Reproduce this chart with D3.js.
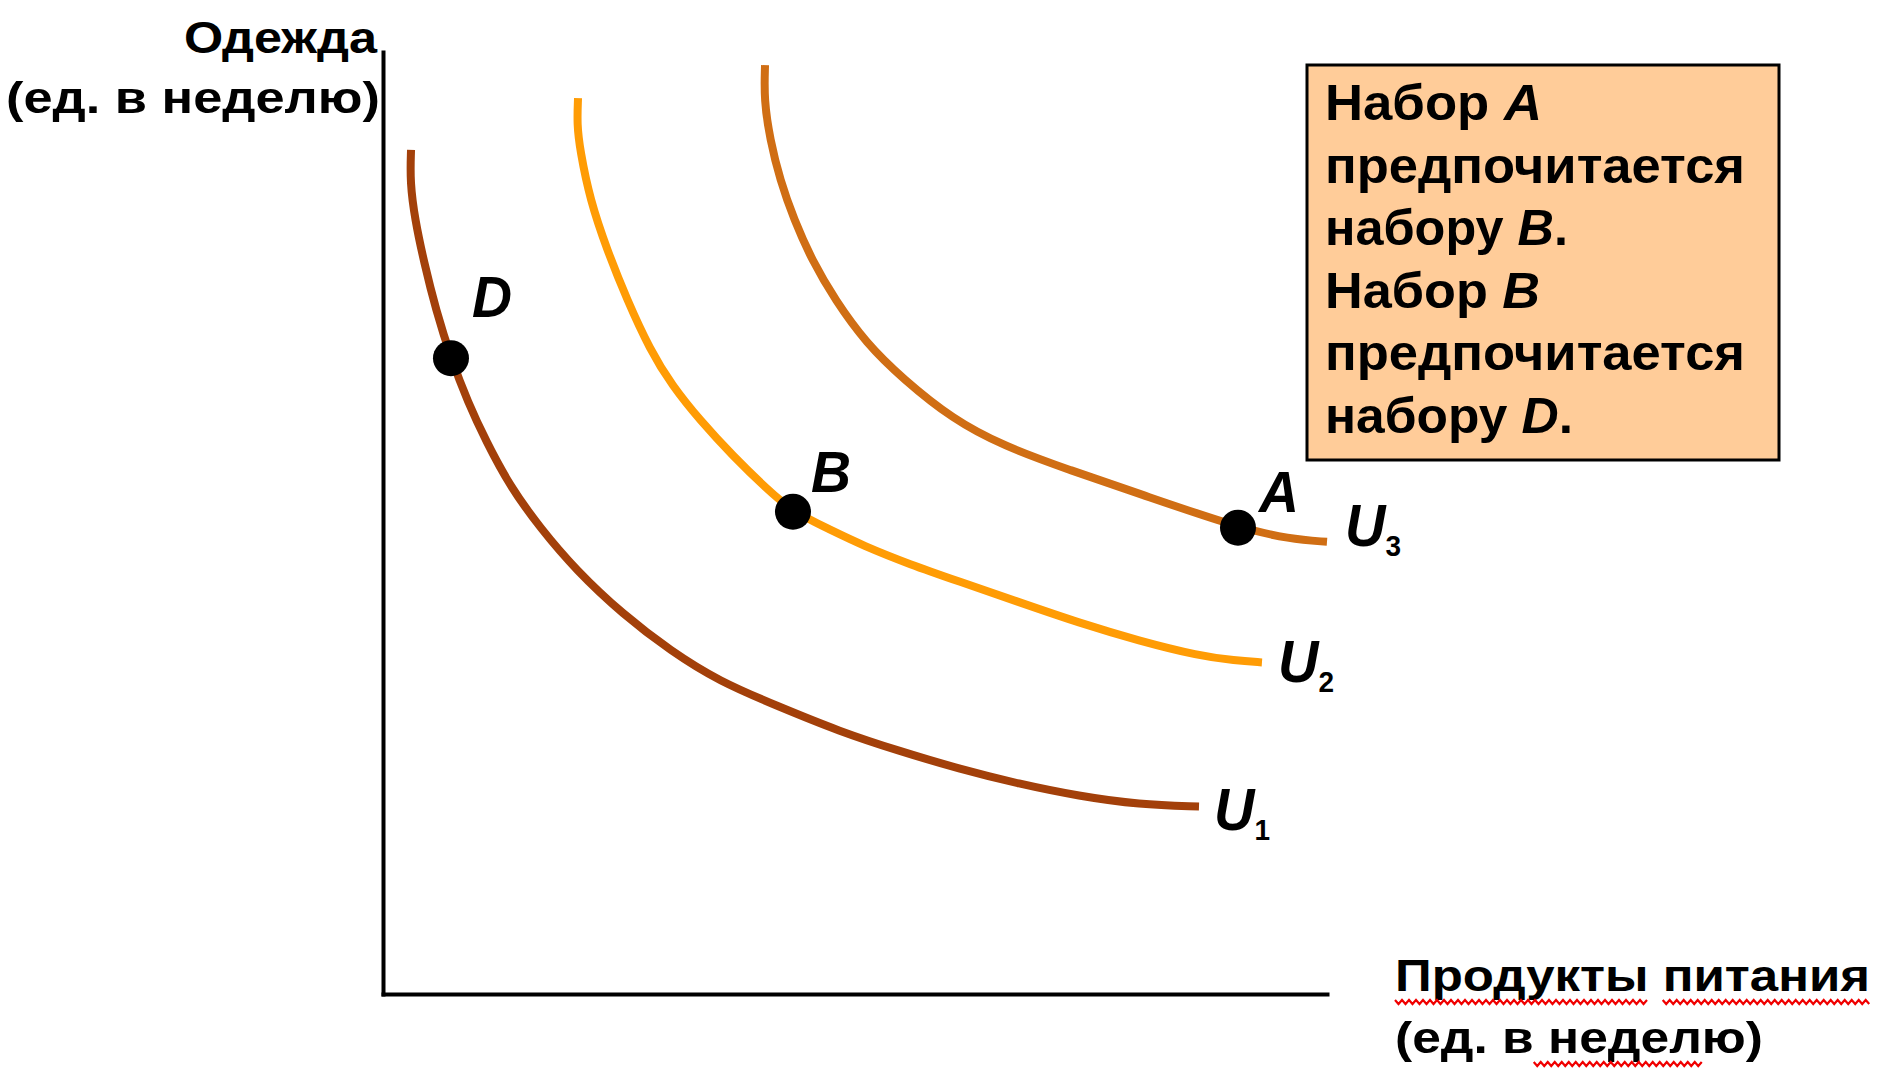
<!DOCTYPE html>
<html>
<head>
<meta charset="utf-8">
<script src="https://cdn.jsdelivr.net/npm/d3@7"></script>
<style>
  html, body { margin: 0; padding: 0; background: #ffffff; }
  svg { display: block; }
  text { font-family: "Liberation Sans", Arial, sans-serif; font-weight: bold; fill: #000; }
</style>
</head>
<body>
<svg id="chart" width="1880" height="1068"></svg>
<script>
// ---- data (food units, clothing units) ----
const curveNames = ["U", "U", "U"];
const curveSubs  = ["1", "2", "3"];
const u1Food     = [0.297, 0.286, 0.339, 0.434, 0.561, 0.720, 0.900, 1.091, 1.345, 1.663, 2.044, 2.542, 3.051, 3.559, 4.195, 4.830, 5.466, 6.102, 6.737, 7.373, 8.008, 8.644];
const u1Clothing = [8.96, 8.62, 8.22, 7.77, 7.26, 6.75, 6.28, 5.87, 5.39, 4.95, 4.50, 4.03, 3.64, 3.32, 3.05, 2.79, 2.58, 2.39, 2.23, 2.10, 2.01, 1.99];
const u2Food     = [2.066, 2.055, 2.087, 2.193, 2.373, 2.585, 2.828, 3.061, 3.358, 3.708, 4.068, 4.343, 4.735, 5.085, 5.583, 6.102, 6.737, 7.373, 8.008, 8.644, 9.025, 9.311];
const u2Clothing = [9.51, 9.23, 8.96, 8.43, 7.90, 7.37, 6.84, 6.46, 6.09, 5.71, 5.36, 5.12, 4.93, 4.76, 4.56, 4.38, 4.16, 3.94, 3.75, 3.59, 3.54, 3.52];
const u3Food     = [4.047, 4.036, 4.100, 4.206, 4.354, 4.544, 4.788, 5.117, 5.508, 6.038, 6.568, 7.278, 7.987, 9.057, 9.608, 10.0];
const u3Clothing = [9.86, 9.49, 9.07, 8.64, 8.22, 7.79, 7.37, 6.91, 6.53, 6.10, 5.82, 5.56, 5.32, 4.95, 4.83, 4.80];
const curveColors = ["#a3400a", "#ff9c05", "#d06e14"];

const pointNames    = ["D", "B", "A"];
const pointFood     = [0.720, 4.343, 9.057];
const pointClothing = [6.75, 5.12, 4.95];

const yLabelLines = ["Одежда", "(ед. в неделю)"];
const xLabelLines = ["Продукты питания", "(ед. в неделю)"];
const noteLines = [
  ["Набор ", "A", ""],
  ["предпочитается", "", ""],
  ["набору ", "B", "."],
  ["Набор ", "B", ""],
  ["предпочитается", "", ""],
  ["набору ", "D", "."]
];

// ---- layout ----
const svg = d3.select("#chart");
const X0 = 383, X1 = 1327, Y0 = 994, Y1 = 52;
const x = d3.scaleLinear().domain([0, 10]).range([X0, X1]);
const y = d3.scaleLinear().domain([0, 10]).range([Y0, Y1]);

// axes (no ticks)
const axisG = svg.append("g");
axisG.append("g").attr("transform", `translate(0,${Y0})`)
  .call(d3.axisBottom(x).tickValues([]).tickSizeOuter(0))
  .call(g => g.select(".domain").attr("stroke", "#000").attr("stroke-width", 4).attr("stroke-linecap", "square"));
axisG.append("g").attr("transform", `translate(${X0},0)`)
  .call(d3.axisLeft(y).tickValues([]).tickSizeOuter(0))
  .call(g => g.select(".domain").attr("stroke", "#000").attr("stroke-width", 4).attr("stroke-linecap", "square"));

// curves
const curves = [
  u1Food.map((f, i) => [f, u1Clothing[i]]),
  u2Food.map((f, i) => [f, u2Clothing[i]]),
  u3Food.map((f, i) => [f, u3Clothing[i]])
];
const line = d3.line().x(d => x(d[0])).y(d => y(d[1])).curve(d3.curveBasis);
svg.append("g").selectAll("path").data(curves).join("path")
  .attr("d", line)
  .attr("fill", "none")
  .attr("stroke", (d, i) => curveColors[i])
  .attr("stroke-width", 8)
  .attr("stroke-linecap", "butt");

// curve labels U1..U3 next to curve ends (one text each, subscript as tspan)
const uOffsets = [[15, 23], [16, 20], [18, 4]];
curves.forEach((c, i) => {
  const end = c[c.length - 1];
  const t = svg.append("text")
    .attr("x", x(end[0]) + uOffsets[i][0])
    .attr("y", y(end[1]) + uOffsets[i][1])
    .attr("textLength", 56).attr("lengthAdjust", "spacingAndGlyphs");
  t.append("tspan").attr("font-size", 60).attr("font-style", "italic").text(curveNames[i]);
  t.append("tspan").attr("font-size", 30).attr("dy", 10).text(curveSubs[i]);
});

// points
const pts = pointNames.map((n, i) => ({ name: n, f: pointFood[i], c: pointClothing[i] }));
svg.append("g").selectAll("circle").data(pts).join("circle")
  .attr("cx", d => x(d.f)).attr("cy", d => y(d.c)).attr("r", 18).attr("fill", "#000");
const ptOff = { D: [21, -41], B: [18, -20], A: [21, -16] };
svg.append("g").selectAll("text").data(pts).join("text")
  .attr("x", d => x(d.f) + ptOff[d.name][0])
  .attr("y", d => y(d.c) + ptOff[d.name][1])
  .attr("font-size", 58).attr("font-style", "italic")
  .attr("textLength", 40).attr("lengthAdjust", "spacingAndGlyphs")
  .text(d => d.name);

// note box
const box = { x: 1307, y: 65, w: 472, h: 395 };
svg.append("rect").attr("x", box.x).attr("y", box.y).attr("width", box.w).attr("height", box.h)
  .attr("fill", "#ffcc99").attr("stroke", "#000").attr("stroke-width", 3);
const noteWidths = [217, 420, 243, 215, 420, 248];
noteLines.forEach((parts, i) => {
  const t = svg.append("text").attr("x", box.x + 18).attr("y", box.y + 55 + i * 62.6)
    .attr("font-size", 50)
    .attr("textLength", noteWidths[i]).attr("lengthAdjust", "spacingAndGlyphs");
  t.append("tspan").text(parts[0]);
  if (parts[1]) t.append("tspan").attr("font-style", "italic").text(parts[1]);
  if (parts[2]) t.append("tspan").text(parts[2]);
});

// axis titles
svg.append("text").attr("x", 377).attr("y", 53).attr("text-anchor", "end")
  .attr("font-size", 45).attr("textLength", 193).attr("lengthAdjust", "spacingAndGlyphs")
  .text(yLabelLines[0]);
svg.append("text").attr("x", 6).attr("y", 113)
  .attr("font-size", 45).attr("textLength", 374).attr("lengthAdjust", "spacingAndGlyphs")
  .text(yLabelLines[1]);

const xl1 = svg.append("text").attr("x", 1395).attr("y", 991)
  .attr("font-size", 45).attr("textLength", 475).attr("lengthAdjust", "spacingAndGlyphs")
  .text(xLabelLines[0]);
const xl2 = svg.append("text").attr("x", 1395).attr("y", 1053)
  .attr("font-size", 45).attr("textLength", 368).attr("lengthAdjust", "spacingAndGlyphs")
  .text(xLabelLines[1]);

// spell-check style red wavy underline, positioned from the text glyph extents
function squiggle(textSel, charFrom, charTo, yOff) {
  const node = textSel.node();
  const sx = node.getStartPositionOfChar(charFrom).x;
  const exx = node.getEndPositionOfChar(charTo).x;
  const by = +textSel.attr("y") + yOff;
  const pts = [];
  let k = 0;
  for (let px = sx; px <= exx; px += 3.5, k++) pts.push([px, by + (k % 2 ? 4 : 0)]);
  svg.append("path").attr("d", d3.line()(pts)).attr("fill", "none")
    .attr("stroke", "#f00000").attr("stroke-width", 2.2);
}
squiggle(xl1, 0, 7, 9);
squiggle(xl1, 9, 15, 9);
squiggle(xl2, 6, 11, 9);
</script>
</body>
</html>
